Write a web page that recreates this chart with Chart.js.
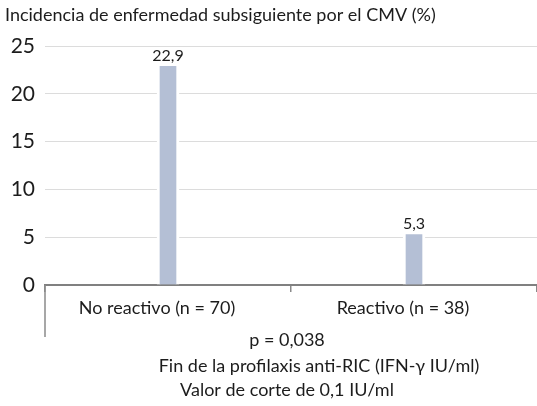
<!DOCTYPE html>
<html>
<head>
<meta charset="utf-8">
<script src="https://cdn.jsdelivr.net/npm/chart.js@4"></script>
<style>
    html, body { margin: 0; padding: 0; background: #fff; }
    #wrap { width: 537px; height: 406px; }
</style>
</head>
<body>
<div id="wrap"><canvas id="cmvChart" width="537" height="406"></canvas></div>
<script>
// Data
const categories = ["No reactivo (n = 70)", "Reactivo (n = 38)"];
const incidence = [22.9, 5.3];
const yTicks = [0, 5, 10, 15, 20, 25];
const titleText = "Incidencia de enfermedad subsiguiente por el CMV (%)";
const footerLines = ["p = 0,038", "Fin de la profilaxis anti-RIC (IFN-\u03b3 IU/ml)", "Valor de corte de 0,1 IU/ml"];

const FONT = "Lato, 'Open Sans', sans-serif";
const TEXT = "#1c1c1c";

function fmt(v) {
    return v.toFixed(1).replace(".", ",");
}

// value labels above the bars
const valueLabels = {
    id: "valueLabels",
    afterDatasetsDraw(chart) {
        const ctx = chart.ctx;
        const meta = chart.getDatasetMeta(0);
        ctx.save();
        ctx.font = "16px " + FONT;
        ctx.fillStyle = TEXT;
        ctx.textAlign = "center";
        ctx.textBaseline = "alphabetic";
        meta.data.forEach((bar, i) => {
            ctx.fillText(fmt(incidence[i]), bar.x, bar.y - 5);
        });
        ctx.restore();
    }
};

// title, long left frame line and the footer text under the axis
const axisFooter = {
    id: "axisFooter",
    afterDraw(chart) {
        const ctx = chart.ctx;
        const area = chart.chartArea;
        const x = chart.scales.x;
        const mid = x.getPixelForValue(0.5);

        ctx.save();
        ctx.font = "18px " + FONT;
        ctx.fillStyle = TEXT;
        ctx.textAlign = "left";
        ctx.textBaseline = "alphabetic";
        ctx.fillText(titleText, 5, 21);

        ctx.strokeStyle = "#8a8a8a";
        ctx.lineWidth = 1.5;
        ctx.beginPath();
        ctx.moveTo(area.left, area.bottom);
        ctx.lineTo(area.left, area.bottom + 52);
        ctx.stroke();

        ctx.textAlign = "center";
        const dy = [61, 87, 111];
        const dx = [-4, 28, -4];
        footerLines.forEach((line, i) => {
            ctx.fillText(line, mid + dx[i], area.bottom + dy[i]);
        });
        ctx.restore();
    }
};

new Chart(document.getElementById("cmvChart"), {
    type: "bar",
    data: {
        labels: categories,
        datasets: [{
            data: incidence,
            backgroundColor: "#b4bfd5",
            borderColor: "#ffffff",
            borderWidth: { left: 3, right: 3, top: 0, bottom: 0 },
            borderSkipped: false,
            barThickness: 22
        }]
    },
    options: {
        responsive: false,
        animation: false,
        layout: { padding: { top: 46 } },
        plugins: {
            legend: { display: false },
            tooltip: { enabled: false },
            title: { display: false }
        },
        scales: {
            x: {
                offset: true,
                afterFit: (scale) => { scale.height = 121; },
                grid: {
                    display: true,
                    drawOnChartArea: false,
                    drawTicks: true,
                    tickLength: 7,
                    color: "#8a8a8a",
                    lineWidth: 1.5
                },
                border: { display: true, color: "#808080", width: 2 },
                ticks: {
                    color: TEXT,
                    font: { family: FONT, size: 18 },
                    padding: 5,
                    labelOffset: -11,
                    maxRotation: 0
                }
            },
            y: {
                min: 0,
                max: 25,
                afterFit: (scale) => { scale.width = 45; },
                afterBuildTicks: (scale) => {
                    scale.ticks = yTicks.map(v => ({ value: v }));
                },
                grid: {
                    color: "#dcdcdc",
                    lineWidth: 1,
                    drawTicks: false
                },
                border: { display: false },
                ticks: {
                    color: TEXT,
                    font: { family: FONT, size: 21 },
                    padding: 10
                }
            }
        }
    },
    plugins: [valueLabels, axisFooter]
});
</script>
</body>
</html>
